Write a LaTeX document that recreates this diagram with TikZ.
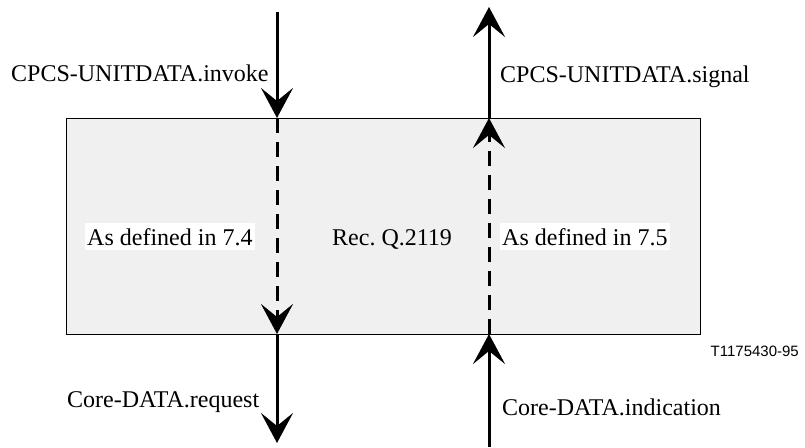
\documentclass[tikz,border=0pt]{standalone}
\usepackage{fontspec}
\setmainfont{Liberation Serif}
\newfontfamily\tagfont{Liberation Sans}
\usetikzlibrary{arrows.meta}

\definecolor{boxgray}{RGB}{240,240,240}

\tikzset{
  flow/.style={line width=3pt, -{Stealth[length=30pt,width=32pt,inset=13pt]}},
  flowsolid/.style={flow},
  flowdashed/.style={flow, dash pattern=on 15pt off 9pt},
  lbl/.style={inner sep=0pt, anchor=base west, font=\fontsize{24}{28}\selectfont},
  boxlbl/.style={lbl, fill=white, inner xsep=2pt, text height=22pt, text depth=5pt},
  layer/.style={draw=black, line width=0.9pt, fill=boxgray, inner sep=0pt}
}

\begin{document}
\frenchspacing
\begin{tikzpicture}[x=1pt,y=-1pt]
\useasboundingbox (0,0) rectangle (805,447);

% the protocol layer box
\node[layer, minimum width=634pt, minimum height=216pt, anchor=north west] (layer) at (66,118) {};

% end points of the two primitive flows
\coordinate (inTop)  at (277,12);
\coordinate (inUp)   at (277,118);
\coordinate (inDown) at (277,334);
\coordinate (inBot)  at (277,443);
\coordinate (outBot)  at (489,447);
\coordinate (outDown) at (489,334);
\coordinate (outUp)   at (489,118);
\coordinate (outTop)  at (489,7);

% downward flow
\draw[flowsolid]  (inTop)  -- (inUp);
\draw[flowdashed] (inUp)   -- (inDown);
\draw[flowsolid]  (inDown) -- (inBot);

% upward flow
\draw[flowsolid]  (outBot)  -- (outDown);
\draw[flowdashed] (outDown) -- (outUp);
\draw[flowsolid]  (outUp)   -- (outTop);

% labels
\node[lbl] (invoke) at (11,81) {CPCS-UNITDATA.invoke};
\node[lbl] (signal) at (500,82) {CPCS-UNITDATA.signal};
\node[boxlbl] (def74) at (85,245) {As defined in 7.4};
\node[lbl] (rec) at (332,245) {Rec.\ Q.2119};
\node[boxlbl] (def75) at (500,245) {As defined in 7.5};
\node[lbl] (request) at (67,407) {Core-DATA.request};
\node[lbl] (indication) at (502,415) {Core-DATA.indication};
\node[inner sep=0pt, anchor=base east, font=\tagfont\fontsize{15}{18}\selectfont] (tag) at (799,356) {T1175430-95};
\end{tikzpicture}
\end{document}
